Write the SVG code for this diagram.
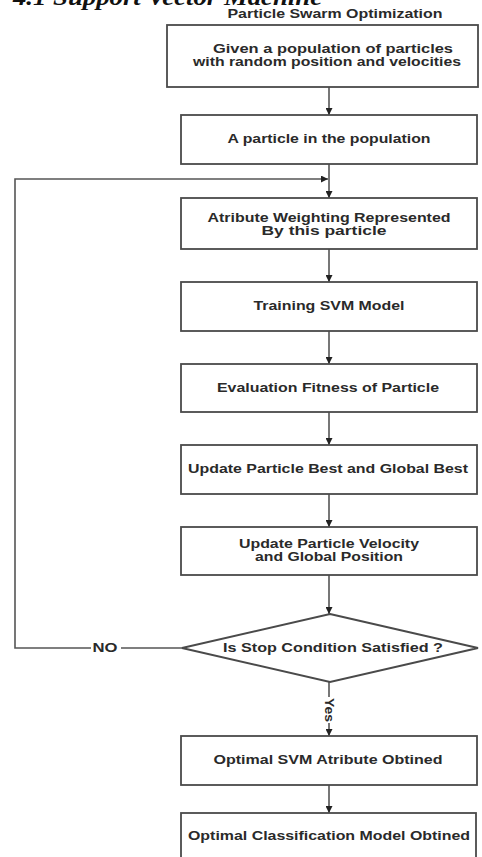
<svg xmlns="http://www.w3.org/2000/svg" width="482" height="857" viewBox="0 0 482 857">
<style>
.box{fill:#fff;stroke:#4a4a4a;stroke-width:1.8}
.t{font-family:"Liberation Sans",Arial,sans-serif;font-weight:bold;font-size:12px;fill:#2a2a2a;text-anchor:middle}
.ln{fill:none;stroke:#555;stroke-width:1.6}
</style>
<defs>
<marker id="ah" viewBox="0 0 10 10" refX="10" refY="5" markerWidth="7" markerHeight="7" markerUnits="userSpaceOnUse" orient="auto">
<path d="M0,0 L10,5 L0,10 z" fill="#222"/>
</marker>
</defs>
<rect width="482" height="857" fill="#fff"/>
<text x="13" y="5" font-family="'Liberation Serif','Times New Roman',serif" font-weight="bold" font-style="italic" font-size="24" textLength="309" lengthAdjust="spacingAndGlyphs" fill="#111">4.1 Support Vector Machine</text>
<text class="t" x="335" y="18" textLength="215" lengthAdjust="spacingAndGlyphs">Particle Swarm Optimization</text>
<g id="connectors">
<line class="ln" x1="329" y1="87" x2="329" y2="115" marker-end="url(#ah)"/>
<line class="ln" x1="329" y1="164" x2="329" y2="198" marker-end="url(#ah)"/>
<line class="ln" x1="329" y1="249" x2="329" y2="282" marker-end="url(#ah)"/>
<line class="ln" x1="329" y1="331" x2="329" y2="364" marker-end="url(#ah)"/>
<line class="ln" x1="329" y1="412" x2="329" y2="445" marker-end="url(#ah)"/>
<line class="ln" x1="329" y1="494" x2="329" y2="527" marker-end="url(#ah)"/>
<line class="ln" x1="329" y1="575" x2="329" y2="614" marker-end="url(#ah)"/>
<line class="ln" x1="329" y1="682" x2="329" y2="697"/>
<line class="ln" x1="329" y1="723" x2="329" y2="736" marker-end="url(#ah)"/>
<line class="ln" x1="329" y1="785" x2="329" y2="813" marker-end="url(#ah)"/>
<polyline class="ln" points="182,648 121,648"/>
<polyline class="ln" points="91,648 15,648 15,179 328,179" marker-end="url(#ah)"/>
<text class="t" x="105" y="652" font-size="11" textLength="25" lengthAdjust="spacingAndGlyphs">NO</text>
<text class="t" transform="translate(329,710) rotate(90)" x="0" y="4" font-size="11" textLength="24" lengthAdjust="spacingAndGlyphs">Yes</text>
</g>
<g id="n1">
<rect class="box" x="167" y="25" width="311" height="62"/>
<text class="t" x="333" y="53" textLength="240" lengthAdjust="spacingAndGlyphs">Given a population of particles</text>
<text class="t" x="327" y="66" textLength="268" lengthAdjust="spacingAndGlyphs">with random position and velocities</text>
</g>
<g id="n2">
<rect class="box" x="181" y="115" width="296" height="49"/>
<text class="t" x="329" y="143" textLength="203" lengthAdjust="spacingAndGlyphs">A particle in the population</text>
</g>
<g id="n3">
<rect class="box" x="181" y="198" width="296" height="51"/>
<text class="t" x="329" y="222" textLength="243" lengthAdjust="spacingAndGlyphs">Atribute Weighting Represented</text>
<text class="t" x="324" y="235" textLength="125" lengthAdjust="spacingAndGlyphs">By this particle</text>
</g>
<g id="n4">
<rect class="box" x="181" y="282" width="296" height="49"/>
<text class="t" x="329" y="310" textLength="151" lengthAdjust="spacingAndGlyphs">Training SVM Model</text>
</g>
<g id="n5">
<rect class="box" x="181" y="364" width="296" height="48"/>
<text class="t" x="328" y="392" textLength="222" lengthAdjust="spacingAndGlyphs">Evaluation Fitness of Particle</text>
</g>
<g id="n6">
<rect class="box" x="181" y="445" width="296" height="49"/>
<text class="t" x="328" y="473" textLength="280" lengthAdjust="spacingAndGlyphs">Update Particle Best and Global Best</text>
</g>
<g id="n7">
<rect class="box" x="181" y="527" width="296" height="48"/>
<text class="t" x="329" y="548" textLength="180" lengthAdjust="spacingAndGlyphs">Update Particle Velocity</text>
<text class="t" x="329" y="561" textLength="148" lengthAdjust="spacingAndGlyphs">and Global Position</text>
</g>
<g id="n8">
<polygon class="box" points="330,614 478,648 330,682 182,648"/>
<text class="t" x="333" y="652" textLength="220" lengthAdjust="spacingAndGlyphs">Is Stop Condition Satisfied ?</text>
</g>
<g id="n9">
<rect class="box" x="181" y="736" width="296" height="49"/>
<text class="t" x="328" y="764" textLength="229" lengthAdjust="spacingAndGlyphs">Optimal SVM Atribute Obtined</text>
</g>
<g id="n10">
<rect class="box" x="181" y="813" width="295" height="60"/>
<text class="t" x="329" y="840" textLength="282" lengthAdjust="spacingAndGlyphs">Optimal Classification Model Obtined</text>
</g>
</svg>
